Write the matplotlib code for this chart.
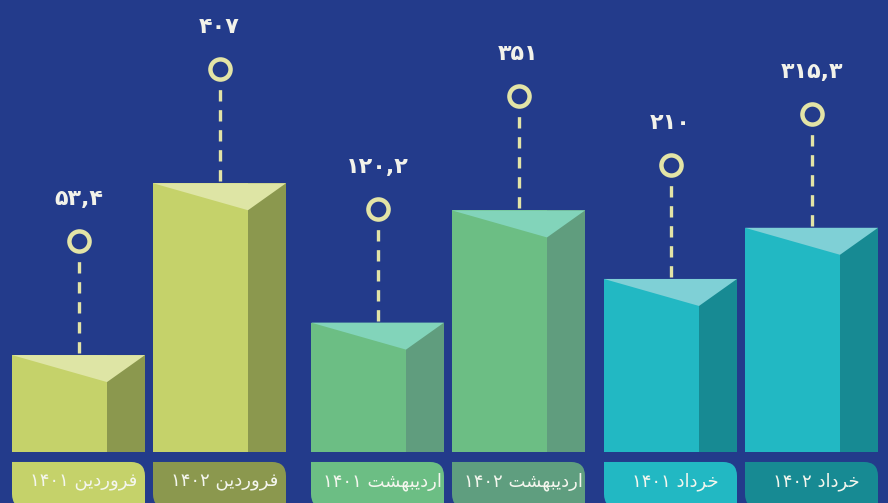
import numpy as np
import matplotlib.pyplot as plt
from matplotlib.patches import Polygon, PathPatch
from matplotlib.path import Path

# data
months = ['فروردین', 'فروردین', 'اردیبهشت', 'اردیبهشت', 'خرداد', 'خرداد']
years = ['۱۴۰۱', '۱۴۰۲', '۱۴۰۱', '۱۴۰۲', '۱۴۰۱', '۱۴۰۲']
values = [53.4, 407, 120.2, 351, 210, 315.3]
value_labels = ['۵۳,۴', '۴۰۷', '۱۲۰,۲', '۳۵۱', '۲۱۰', '۳۱۵,۳']

front_colors = ['#c5d26a', '#c5d26a', '#6cbe84', '#6cbe84', '#22b8c3', '#22b8c3']
side_colors = ['#8b984e', '#8b984e', '#609d7e', '#609d7e', '#178a93', '#178a93']
top_colors = ['#dee5a5', '#dee5a5', '#82d4ba', '#82d4ba', '#7fd0d6', '#7fd0d6']
tab_colors = ['#c5d26a', '#8b984e', '#6cbe84', '#5f9e7f', '#22b8c3', '#178a93']
bg = '#233b8b'
pale = '#e3e4a6'

# minimal Persian shaping so the labels show joined letters right to left
forms = {
    'ا': ('\uFE8D', '\uFE8E', None, None),
    'ر': ('\uFEAD', '\uFEAE', None, None),
    'و': ('\uFEED', '\uFEEE', None, None),
    'د': ('\uFEA9', '\uFEAA', None, None),
    'ف': ('\uFED1', '\uFED2', '\uFED3', '\uFED4'),
    'ی': ('\uFBFC', '\uFBFD', '\uFEF3', '\uFEF4'),
    'ن': ('\uFEE5', '\uFEE6', '\uFEE7', '\uFEE8'),
    'ب': ('\uFE8F', '\uFE90', '\uFE91', '\uFE92'),
    'ه': ('\uFEE9', '\uFEEA', '\uFEEB', '\uFEEC'),
    'ش': ('\uFEB5', '\uFEB6', '\uFEB7', '\uFEB8'),
    'ت': ('\uFE95', '\uFE96', '\uFE97', '\uFE98'),
    'خ': ('\uFEA5', '\uFEA6', '\uFEA7', '\uFEA8'),
}

def shape(word):
    out = []
    for i, c in enumerate(word):
        f = forms[c]
        prev = i > 0 and forms[word[i - 1]][2] is not None
        nxt = i < len(word) - 1 and f[2] is not None
        if prev and nxt:
            out.append(f[3])
        elif prev:
            out.append(f[1])
        elif nxt:
            out.append(f[2])
        else:
            out.append(f[0])
    return ''.join(reversed(out))

W, H = 888, 503
fig = plt.figure(figsize=(W / 100, H / 100), dpi=100, facecolor=bg)
ax = fig.add_axes([0, 0, 1, 1])
ax.set_facecolor(bg)
ymin, ymax = -251, 784
ax.set_xlim(0, W)
ax.set_ylim(ymin, ymax)
ax.axis('off')
px = (ymax - ymin) / H  # data units per pixel
base = -146

wf, ws = 95, 38
lefts = [12 + (i // 2) * 296 + (i % 2) * 141 + (3 if i // 2 == 1 else 0) for i in range(6)]

for i, v in enumerate(values):
    x0 = lefts[i]
    ax.bar(x0, v - base, width=wf, bottom=base, align='edge', color=front_colors[i], lw=0)
    ax.bar(x0 + wf, v - base, width=ws, bottom=base, align='edge', color=side_colors[i], lw=0)
    ax.add_patch(Polygon([(x0, v), (x0 + wf + ws, v), (x0 + wf, v - 27 * px)],
                         closed=True, color=top_colors[i], lw=0))

    xc = x0 + (wf + ws) / 2
    cy = v + 114 * px
    ax.plot([xc, xc], [v + 2 * px, cy - 13 * px], color=pale, lw=2.4, dashes=(3.4, 2.6),
            solid_capstyle='butt')
    ax.plot(xc, cy, 'o', ms=14.5, mfc=bg, mec=pale, mew=3.2)
    ax.text(xc, cy + 42 * px, value_labels[i], ha='center', va='center',
            fontsize=16, fontweight='bold', color='#f2f2ea', family='DejaVu Sans')

    # rounded tab under each bar
    x1 = x0 + wf + ws
    yt, yb = base - 10 * px, base - 56 * px
    r, ry = 14, 14 * px
    verts = [(x0, yt), (x1 - r, yt), (x1, yt), (x1, yt - ry), (x1, yb),
             (x0 + r, yb), (x0, yb), (x0, yb + ry), (x0, yt)]
    codes = [Path.MOVETO, Path.LINETO, Path.CURVE3, Path.CURVE3, Path.LINETO,
             Path.LINETO, Path.CURVE3, Path.CURVE3, Path.CLOSEPOLY]
    ax.add_patch(PathPatch(Path(verts, codes), facecolor=tab_colors[i], lw=0))
    label = years[i] + ' ' + shape(months[i])
    ax.text(xc + 5, base - 30 * px, label, ha='center', va='center', fontsize=13,
            color='#f4f6ee', family='DejaVu Sans')

fig.savefig('out.png', dpi=100, facecolor=bg)
